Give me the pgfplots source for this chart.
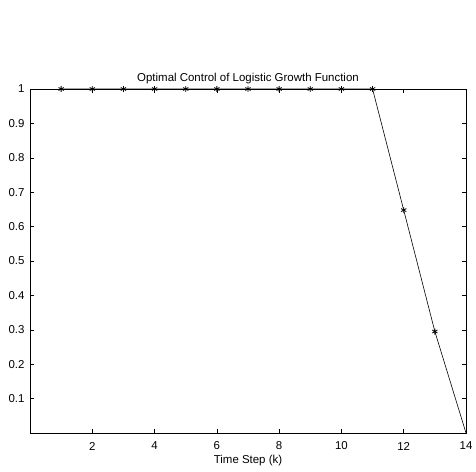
\documentclass[border=0pt]{standalone}
\usepackage{pgfplots}
\pgfplotsset{compat=1.18}
\usepackage{fontspec}
\setmainfont{Liberation Sans}
\begin{document}
\begin{tikzpicture}[x=1bp,y=1bp]
\useasboundingbox (-30bp,-39bp) rectangle (446bp,433bp);
\begin{axis}[
  at={(0,0)}, anchor=south west,
  scale only axis, width=436bp, height=344bp,
  xmin=0, xmax=14, ymin=0, ymax=1,
  xtick={2,4,6,8,10,12,14},
  ytick={0.1,0.2,0.3,0.4,0.5,0.6,0.7,0.8,0.9,1},
  yticklabels={0.1,0.2,0.3,0.4,0.5,0.6,0.7,0.8,0.9,1},
  tick align=inside,
  major tick length=4bp,
  axis line style={line width=0.6pt},
  tick style={line width=0.5pt, black},
  ticklabel style={font=\fontsize{11.5}{13}\selectfont},
  /pgf/number format/assume math mode=true,
  xlabel={Time Step (k)},
  xlabel style={font=\fontsize{11.5}{13}\selectfont, at={(axis description cs:0.5,0)}, anchor=center, yshift=-28bp},
  title={Optimal Control of Logistic Growth Function},
  title style={font=\fontsize{11.5}{13}\selectfont, yshift=-4bp},
  xticklabel style={anchor=center, yshift=-13bp},
  yticklabel style={anchor=east, xshift=-2bp},
]
\addplot[black, line width=0.6pt, mark=asterisk, mark size=3pt, mark options={line width=0.8pt}, mark indices={1,...,13}] coordinates {
(1,1) (2,1) (3,1) (4,1) (5,1) (6,1) (7,1) (8,1) (9,1) (10,1) (11,1) (12,0.648) (13,0.295) (14,0)
};
\end{axis}
\end{tikzpicture}
\end{document}
